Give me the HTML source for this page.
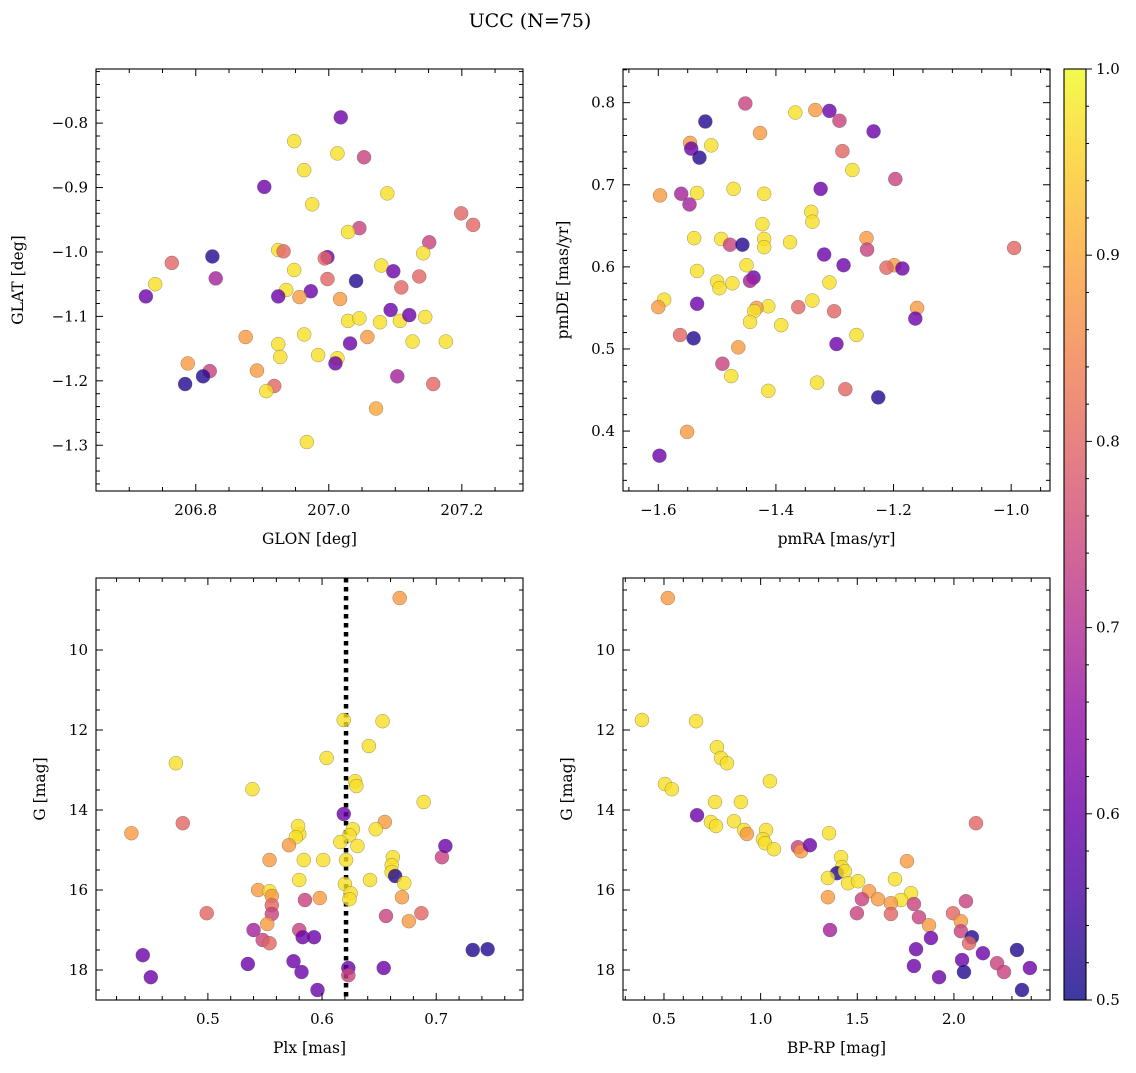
<!DOCTYPE html>
<html><head><meta charset="utf-8"><style>
html,body{margin:0;padding:0;background:#fff;}
svg text{font-family:"DejaVu Serif","Liberation Serif",serif;fill:#000;}
</style></head><body>
<svg id="fig" xmlns="http://www.w3.org/2000/svg" width="1136" height="1068" viewBox="0 0 1136 1068">
<defs>
<linearGradient id="plasma" x1="0" y1="1" x2="0" y2="0">
<stop offset="0" stop-color="#0d0887"/><stop offset="0.1" stop-color="#41049d"/><stop offset="0.2" stop-color="#6a00a8"/><stop offset="0.3" stop-color="#8f0da4"/><stop offset="0.4" stop-color="#b12a90"/><stop offset="0.5" stop-color="#cc4778"/><stop offset="0.6" stop-color="#e16462"/><stop offset="0.7" stop-color="#f2844b"/><stop offset="0.8" stop-color="#fca636"/><stop offset="0.9" stop-color="#fcce25"/><stop offset="1" stop-color="#f0f921"/>
</linearGradient>
</defs>
<text x="530" y="27" text-anchor="middle" font-size="19">UCC (N=75)</text>
</svg>
<script>
// ---- Panel 1: GLON / GLAT ----
const glonVals=[207.018,206.948,207.013,207.053,206.963,206.903,207.088,206.975,207.199,207.217,207.046,207.029,207.151,206.924,206.932,206.825,206.764,206.998,206.994,207.079,207.097,206.948,207.142,206.998,207.041,206.830,207.136,206.739,207.109,206.936,206.725,206.924,206.973,207.017,206.956,207.145,207.029,207.046,207.077,207.107,207.093,207.121,206.963,206.875,207.058,207.126,207.176,207.032,206.924,206.927,206.984,207.013,207.010,206.788,206.892,206.821,206.811,207.103,206.784,207.157,206.918,206.906,207.071,206.967];
const glatVals=[-0.791,-0.828,-0.847,-0.853,-0.873,-0.899,-0.909,-0.926,-0.940,-0.958,-0.963,-0.969,-0.985,-0.997,-0.999,-1.007,-1.017,-1.008,-1.010,-1.021,-1.030,-1.028,-1.002,-1.042,-1.045,-1.041,-1.038,-1.050,-1.055,-1.059,-1.069,-1.069,-1.061,-1.073,-1.070,-1.101,-1.107,-1.103,-1.109,-1.107,-1.090,-1.098,-1.128,-1.132,-1.132,-1.139,-1.139,-1.142,-1.143,-1.163,-1.160,-1.165,-1.173,-1.173,-1.184,-1.185,-1.193,-1.193,-1.205,-1.205,-1.208,-1.216,-1.243,-1.295];
const probP1=[.6,.97,.97,.74,.97,.6,.97,.97,.8,.8,.74,.97,.74,.97,.8,.52,.8,.6,.8,.97,.6,.97,.97,.8,.52,.68,.8,.97,.8,.97,.6,.6,.6,.88,.88,.97,.97,.97,.97,.97,.6,.6,.97,.88,.88,.97,.97,.6,.97,.97,.97,.97,.6,.88,.88,.74,.52,.68,.52,.8,.8,.97,.9,.97];
// ---- Panel 2: pmRA / pmDE ----
const pmraVals=[-1.452,-1.333,-1.309,-1.520,-1.427,-1.292,-1.234,-1.367,-1.546,-1.544,-1.510,-1.530,-1.287,-1.324,-1.270,-1.197,-1.472,-1.561,-1.597,-1.534,-1.420,-1.547,-1.340,-1.338,-1.423,-1.493,-1.539,-1.478,-1.420,-1.420,-1.376,-1.246,-1.245,-0.995,-1.457,-1.318,-1.450,-1.199,-1.212,-1.185,-1.285,-1.534,-1.438,-1.444,-1.500,-1.496,-1.474,-1.590,-1.600,-1.534,-1.309,-1.362,-1.338,-1.413,-1.433,-1.437,-1.301,-1.160,-1.444,-1.391,-1.163,-1.563,-1.540,-1.263,-1.297,-1.464,-1.491,-1.476,-1.330,-1.282,-1.413,-1.226,-1.551,-1.598];
const pmdeVals=[0.799,0.791,0.790,0.777,0.763,0.778,0.765,0.788,0.751,0.744,0.748,0.733,0.741,0.695,0.718,0.707,0.695,0.689,0.687,0.690,0.689,0.676,0.667,0.655,0.652,0.634,0.635,0.627,0.634,0.624,0.630,0.635,0.621,0.623,0.627,0.615,0.602,0.602,0.599,0.598,0.602,0.595,0.587,0.583,0.582,0.574,0.580,0.560,0.551,0.555,0.581,0.551,0.559,0.552,0.550,0.546,0.546,0.550,0.533,0.529,0.537,0.517,0.513,0.517,0.506,0.502,0.482,0.467,0.459,0.451,0.449,0.441,0.399,0.370];
const probP2=[.74,.88,.6,.52,.88,.74,.6,.97,.88,.6,.97,.52,.8,.6,.97,.74,.97,.68,.88,.97,.97,.68,.97,.97,.97,.97,.97,.74,.97,.97,.97,.88,.74,.8,.52,.6,.97,.88,.8,.6,.6,.97,.6,.68,.97,.97,.97,.97,.88,.6,.97,.8,.97,.97,.88,.97,.8,.88,.97,.97,.6,.8,.52,.97,.6,.88,.74,.97,.97,.8,.97,.52,.88,.6];
// ---- Panel 3: Plx / G ----
const plxVals=[0.668,0.619,0.653,0.641,0.604,0.472,0.539,0.629,0.630,0.689,0.478,0.433,0.655,0.627,0.647,0.580,0.579,0.577,0.624,0.616,0.631,0.619,0.571,0.601,0.621,0.554,0.584,0.705,0.708,0.662,0.642,0.661,0.580,0.661,0.664,0.620,0.672,0.544,0.554,0.625,0.556,0.585,0.598,0.624,0.670,0.687,0.556,0.499,0.556,0.656,0.676,0.552,0.540,0.580,0.548,0.554,0.583,0.593,0.443,0.575,0.535,0.623,0.654,0.582,0.450,0.623,0.732,0.745,0.596];
const gmagP3=[8.70,11.75,11.78,12.40,12.70,12.83,13.48,13.28,13.40,13.80,14.33,14.58,14.30,14.48,14.48,14.60,14.40,14.68,14.63,14.80,14.90,14.10,14.88,15.25,15.25,15.25,15.25,15.18,14.90,15.18,15.75,15.38,15.75,15.55,15.65,15.85,15.83,16.00,16.03,16.08,16.15,16.25,16.20,16.23,16.18,16.58,16.38,16.58,16.60,16.65,16.78,16.85,17.00,17.00,17.25,17.33,17.18,17.18,17.63,17.78,17.85,17.95,17.95,18.05,18.18,18.13,17.50,17.48,18.50];
const probP3=[.88,.97,.97,.97,.97,.97,.97,.97,.97,.97,.8,.88,.88,.97,.97,.97,.97,.97,.97,.97,.97,.6,.88,.97,.97,.88,.97,.74,.6,.97,.97,.97,.97,.97,.52,.97,.97,.88,.97,.97,.88,.74,.88,.97,.88,.8,.8,.8,.74,.74,.88,.88,.68,.74,.74,.8,.6,.6,.6,.6,.6,.6,.6,.6,.6,.74,.52,.52,.6];
const plxLine=0.621;
// ---- Panel 4: BP-RP / G ----
const bprpVals=[0.52,0.386,0.666,0.774,0.795,0.826,1.048,0.505,0.541,0.671,0.764,0.898,0.743,0.769,0.862,0.914,0.929,1.028,1.012,1.023,1.069,1.193,1.209,1.255,1.354,2.114,1.416,1.421,1.395,1.436,1.348,1.452,1.504,1.757,1.695,1.348,1.561,1.607,1.524,1.778,1.726,1.674,1.674,1.498,1.793,1.819,1.871,1.881,1.359,1.804,2.062,1.995,2.036,2.036,2.093,2.078,2.150,2.223,2.259,2.326,2.393,2.042,1.793,1.923,2.052,2.352];
const gmagP4=[8.70,11.75,11.78,12.43,12.70,12.83,13.28,13.35,13.48,14.13,13.80,13.80,14.30,14.40,14.28,14.50,14.60,14.50,14.73,14.83,14.98,14.93,15.03,14.88,14.58,14.33,15.18,15.43,15.58,15.53,15.70,15.83,15.78,15.28,15.73,16.18,16.03,16.23,16.23,16.08,16.25,16.33,16.60,16.58,16.35,16.68,16.88,17.20,17.00,17.48,16.28,16.58,16.78,17.03,17.18,17.33,17.58,17.83,18.05,17.50,17.95,17.75,17.90,18.18,18.05,18.50];
const probP4=[.88,.97,.97,.97,.97,.97,.97,.97,.97,.6,.97,.97,.97,.97,.97,.97,.88,.97,.97,.97,.97,.74,.88,.6,.97,.8,.97,.97,.52,.97,.97,.97,.97,.88,.97,.88,.88,.88,.74,.97,.97,.88,.8,.74,.74,.74,.88,.6,.68,.6,.74,.8,.88,.74,.52,.8,.6,.74,.74,.52,.6,.6,.6,.6,.52,.52];
// ---- colorbar ----
const cbarTicks=[0.5,0.6,0.7,0.8,0.9,1.0];

const NS='http://www.w3.org/2000/svg';
const svg=document.getElementById('fig');
function mk(tag,attrs,parent){const e=document.createElementNS(NS,tag);for(const k in attrs)e.setAttribute(k,attrs[k]);(parent||svg).appendChild(e);return e;}
const stops=[[13,8,135],[65,4,157],[106,0,168],[143,13,164],[177,42,144],[204,71,120],[225,100,98],[242,132,75],[252,166,54],[252,206,37],[240,249,33]];
function plasma(p){let t=(p-0.5)/0.5;t=Math.max(0,Math.min(1,t));const f=t*10,i=Math.min(9,Math.floor(f)),r=f-i;const a=stops[i],b=stops[i+1];return 'rgb('+a.map((v,k)=>Math.round(v+(b[k]-v)*r)).join(',')+')';}
function fmt(v,d){return (v<0?'\u2212':'')+Math.abs(v).toFixed(d);}

function panel(o){
  const g=mk('g',{});
  
  
  const sx=v=>o.x0+(v-o.xmin)/(o.xmax-o.xmin)*(o.x1-o.x0);
  const sy=o.yinv?(v=>o.y0+(v-o.ymin)/(o.ymax-o.ymin)*(o.y1-o.y0)):(v=>o.y1-(v-o.ymin)/(o.ymax-o.ymin)*(o.y1-o.y0));
  if(o.vline!==undefined){
    const l=mk('line',{x1:sx(o.vline),x2:sx(o.vline),y1:o.y0,y2:o.y1,stroke:'#000','stroke-width':4.5,'stroke-dasharray':'4.5,4.5'},g);
    
    
  }
  for(let i=0;i<o.xs.length;i++){
    const c=mk('circle',{cx:sx(o.xs[i]),cy:sy(o.ys[i]),r:7,fill:plasma(o.ps[i]),'fill-opacity':0.8,stroke:'#555','stroke-opacity':0.6,'stroke-width':0.5},g);
    
    
  }
  const fr=mk('rect',{x:o.x0,y:o.y0,width:o.x1-o.x0,height:o.y1-o.y0,fill:'none',stroke:'#000','stroke-width':1.1},g);
  
  
  const eps=1e-9;
  for(let v=Math.ceil(o.xmin/o.xminor)*o.xminor;v<=o.xmax+eps;v+=o.xminor){
    const px=sx(v);const isMaj=Math.abs(v/o.xmajor-Math.round(v/o.xmajor))<1e-6;const L=isMaj?7:4;
    mk('line',{x1:px,x2:px,y1:o.y1,y2:o.y1-L,stroke:'#000','stroke-width':1},g);
    mk('line',{x1:px,x2:px,y1:o.y0,y2:o.y0+L,stroke:'#000','stroke-width':1},g);
    if(isMaj){const t=mk('text',{x:px,y:o.y1+24,'text-anchor':'middle','font-size':15},g);t.textContent=fmt(Math.round(v/o.xmajor)*o.xmajor,o.xd);
      
      }
  }
  for(let v=Math.ceil(o.ymin/o.yminor)*o.yminor;v<=o.ymax+eps;v+=o.yminor){
    const py=sy(v);const isMaj=Math.abs(v/o.ymajor-Math.round(v/o.ymajor))<1e-6;const L=isMaj?7:4;
    mk('line',{x1:o.x0,x2:o.x0+L,y1:py,y2:py,stroke:'#000','stroke-width':1},g);
    mk('line',{x1:o.x1,x2:o.x1-L,y1:py,y2:py,stroke:'#000','stroke-width':1},g);
    if(isMaj){const t=mk('text',{x:o.x0-8,y:py+5,'text-anchor':'end','font-size':15},g);t.textContent=fmt(Math.round(v/o.ymajor)*o.ymajor,o.yd);
      
      }
  }
  const xl=mk('text',{x:(o.x0+o.x1)/2,y:o.y1+53,'text-anchor':'middle','font-size':15.5},g);xl.textContent=o.xlabel;
  
  
  const yl=mk('text',{x:0,y:0,'text-anchor':'middle','font-size':15.5,transform:'translate('+o.ylx+','+((o.y0+o.y1)/2)+') rotate(-90)'},g);yl.textContent=o.ylabel;
  
  
}

panel({name:'glon-glat-panel',x0:96,x1:523,y0:69,y1:491,xmin:206.650,xmax:207.292,ymin:-1.371,ymax:-0.716,xmajor:0.2,xminor:0.05,ymajor:0.1,yminor:0.02,xd:1,yd:1,xs:glonVals,ys:glatVals,ps:probP1,xlabel:'GLON [deg]',ylabel:'GLAT [deg]',ylx:23});
panel({name:'pm-panel',x0:623,x1:1050,y0:69,y1:491,xmin:-1.660,xmax:-0.934,ymin:0.327,ymax:0.841,xmajor:0.2,xminor:0.05,ymajor:0.1,yminor:0.02,xd:1,yd:1,xs:pmraVals,ys:pmdeVals,ps:probP2,xlabel:'pmRA [mas/yr]',ylabel:'pmDE [mas/yr]',ylx:568});
panel({name:'plx-g-panel',x0:96,x1:523,y0:578,y1:1000,xmin:0.402,xmax:0.776,ymin:8.2,ymax:18.75,yinv:true,xmajor:0.1,xminor:0.02,ymajor:2,yminor:0.5,xd:1,yd:0,xs:plxVals,ys:gmagP3,ps:probP3,vline:plxLine,xlabel:'Plx [mas]',ylabel:'G [mag]',ylx:45});
panel({name:'cmd-panel',x0:623,x1:1050,y0:578,y1:1000,xmin:0.288,xmax:2.497,ymin:8.2,ymax:18.75,yinv:true,xmajor:0.5,xminor:0.1,ymajor:2,yminor:0.5,xd:1,yd:0,xs:bprpVals,ys:gmagP4,ps:probP4,xlabel:'BP-RP [mag]',ylabel:'G [mag]',ylx:572});

const cb=mk('g',{});


const cbx0=1064,cbx1=1086,cby0=69,cby1=1000;
mk('rect',{x:cbx0,y:cby0,width:cbx1-cbx0,height:cby1-cby0,fill:'url(#plasma)','fill-opacity':0.8},cb);
mk('rect',{x:cbx0,y:cby0,width:cbx1-cbx0,height:cby1-cby0,fill:'none',stroke:'#000','stroke-width':1.1},cb);
const cy=v=>cby1-(v-0.5)/0.5*(cby1-cby0);
for(let v=0.5;v<=1.0001;v+=0.02){const isMaj=Math.abs(v*10-Math.round(v*10))<1e-6;mk('line',{x1:cbx1,x2:cbx1+(isMaj?6:3),y1:cy(v),y2:cy(v),stroke:'#000','stroke-width':1},cb);}
cbarTicks.forEach(v=>{const t=mk('text',{x:cbx1+10,y:cy(v)+5,'font-size':15},cb);t.textContent=v.toFixed(1);
  
  });
</script>
</body></html>
